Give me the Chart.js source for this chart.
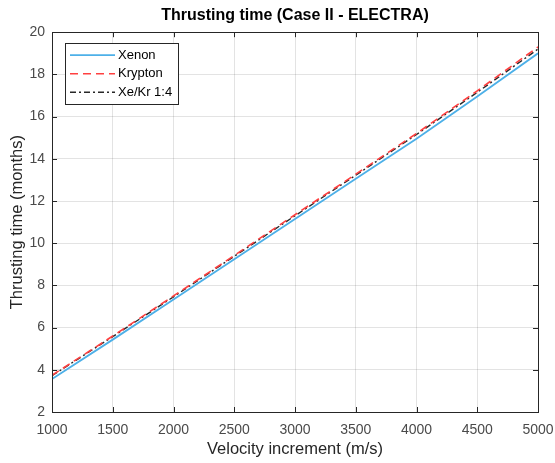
<!DOCTYPE html>
<html>
<head>
<meta charset="utf-8">
<script src="https://cdn.jsdelivr.net/npm/chart.js@4.4.1/dist/chart.umd.min.js"></script>
<style>
  html, body { margin: 0; padding: 0; background: #fff; }
  #wrap { width: 555px; height: 463px; }
</style>
</head>
<body>
<div id="wrap"><canvas id="c" width="555" height="463"></canvas></div>
<script>
const velocity = [1000, 1500, 2000, 2500, 3000, 3500, 4000, 4500, 5000];
const xenon    = [3.56, 5.43, 7.33, 9.24, 11.15, 13.05, 14.95, 16.95, 19.00];
const krypton  = [3.74, 5.60, 7.50, 9.42, 11.35, 13.27, 15.20, 17.22, 19.30];
const xekr     = [3.72, 5.57, 7.46, 9.38, 11.30, 13.22, 15.15, 17.15, 19.20];
const seriesLabels = ['Xenon', 'Krypton', 'Xe/Kr 1:4'];
const xTicks = [1000, 1500, 2000, 2500, 3000, 3500, 4000, 4500, 5000];
const yTicks = [2, 4, 6, 8, 10, 12, 14, 16, 18, 20];

const FONT = '"Liberation Sans", Arial, Helvetica, sans-serif';

function pts(ys) { return velocity.map((v, i) => ({ x: v, y: ys[i] })); }

const styles = [
  { color: 'rgb(77,176,232)', dash: [], width: 1.8 },
  { color: 'rgb(255,64,64)', dash: [8, 5], width: 1.6 },
  { color: 'rgb(40,40,40)', dash: [6, 3, 2, 3], width: 1.4 }
];

const boxPlugin = {
  id: 'boxPlugin',
  afterDraw(chart) {
    const ctx = chart.ctx;
    const a = chart.chartArea;
    const xs = chart.scales.x, ys = chart.scales.y;
    ctx.save();
    ctx.strokeStyle = '#262626';
    ctx.lineWidth = 1;
    ctx.setLineDash([]);
    ctx.beginPath();
    xTicks.forEach(v => {
      const px = Math.round(xs.getPixelForValue(v)) + 0.5;
      ctx.moveTo(px, a.bottom); ctx.lineTo(px, a.bottom - 5);
      ctx.moveTo(px, a.top); ctx.lineTo(px, a.top + 5);
    });
    yTicks.forEach(v => {
      const py = Math.round(ys.getPixelForValue(v)) + 0.5;
      ctx.moveTo(a.left, py); ctx.lineTo(a.left + 5, py);
      ctx.moveTo(a.right, py); ctx.lineTo(a.right - 5, py);
    });
    ctx.stroke();
    ctx.strokeRect(Math.round(a.left) + 0.5, Math.round(a.top) + 0.5,
                   Math.round(a.right - a.left), Math.round(a.bottom - a.top));

    // legend
    const lx = a.left + 13, ly = a.top + 11, lw = 113, lh = 61;
    ctx.fillStyle = '#fff';
    ctx.fillRect(lx, ly, lw, lh);
    ctx.strokeStyle = '#262626';
    ctx.strokeRect(Math.round(lx) + 0.5, Math.round(ly) + 0.5, lw, lh);
    ctx.font = '13px ' + FONT;
    ctx.textBaseline = 'middle';
    chart.data.datasets.forEach((ds, i) => {
      const y = ly + 12 + i * 18.5;
      ctx.strokeStyle = ds.borderColor;
      ctx.lineWidth = ds.borderWidth;
      ctx.setLineDash(ds.borderDash || []);
      ctx.beginPath();
      ctx.moveTo(lx + 5, y); ctx.lineTo(lx + 50, y);
      ctx.stroke();
      ctx.setLineDash([]);
      ctx.fillStyle = '#000';
      ctx.fillText(ds.label, lx + 53, y);
    });
    ctx.restore();
  }
};

new Chart(document.getElementById('c'), {
  type: 'line',
  data: {
    datasets: [xenon, krypton, xekr].map((arr, i) => ({
      label: seriesLabels[i],
      data: pts(arr),
      borderColor: styles[i].color,
      borderDash: styles[i].dash,
      borderWidth: styles[i].width,
      pointRadius: 0,
      fill: false,
      tension: 0
    }))
  },
  options: {
    responsive: false,
    animation: false,
    layout: { padding: { left: 0, right: 17, top: 0, bottom: 0 } },
    plugins: {
      legend: { display: false },
      tooltip: { enabled: false },
      title: {
        display: true,
        fullSize: false,
        text: 'Thrusting time (Case II - ELECTRA)',
        color: '#000',
        font: { family: FONT, size: 16, weight: 'bold' },
        padding: { top: 6, bottom: 7 }
      }
    },
    scales: {
      x: {
        type: 'linear',
        min: 1000, max: 5000,
        afterBuildTicks: s => { s.ticks = xTicks.map(v => ({ value: v })); },
        afterFit: s => { s.height = 51; s.paddingLeft = 0; s.paddingRight = 0; },
        ticks: { color: '#4a4a4a', font: { family: FONT, size: 14 }, padding: 10, maxRotation: 0,
                 callback: v => String(v) },
        grid: { color: 'rgba(0,0,0,0.11)', drawTicks: false },
        border: { display: false },
        title: { display: true, text: 'Velocity increment (m/s)', color: '#262626',
                 font: { family: FONT, size: 16.5 }, padding: { top: 0, bottom: 4 } }
      },
      y: {
        type: 'linear',
        min: 2, max: 20,
        afterBuildTicks: s => { s.ticks = yTicks.map(v => ({ value: v })); },
        afterFit: s => { s.width = 52; },
        ticks: { color: '#4a4a4a', font: { family: FONT, size: 14 }, padding: 7 },
        grid: { color: 'rgba(0,0,0,0.11)', drawTicks: false },
        border: { display: false },
        title: { display: true, text: 'Thrusting time (months)', color: '#262626',
                 font: { family: FONT, size: 16.5 }, padding: { top: 8, bottom: 0 } }
      }
    }
  },
  plugins: [boxPlugin]
});
</script>
</body>
</html>
